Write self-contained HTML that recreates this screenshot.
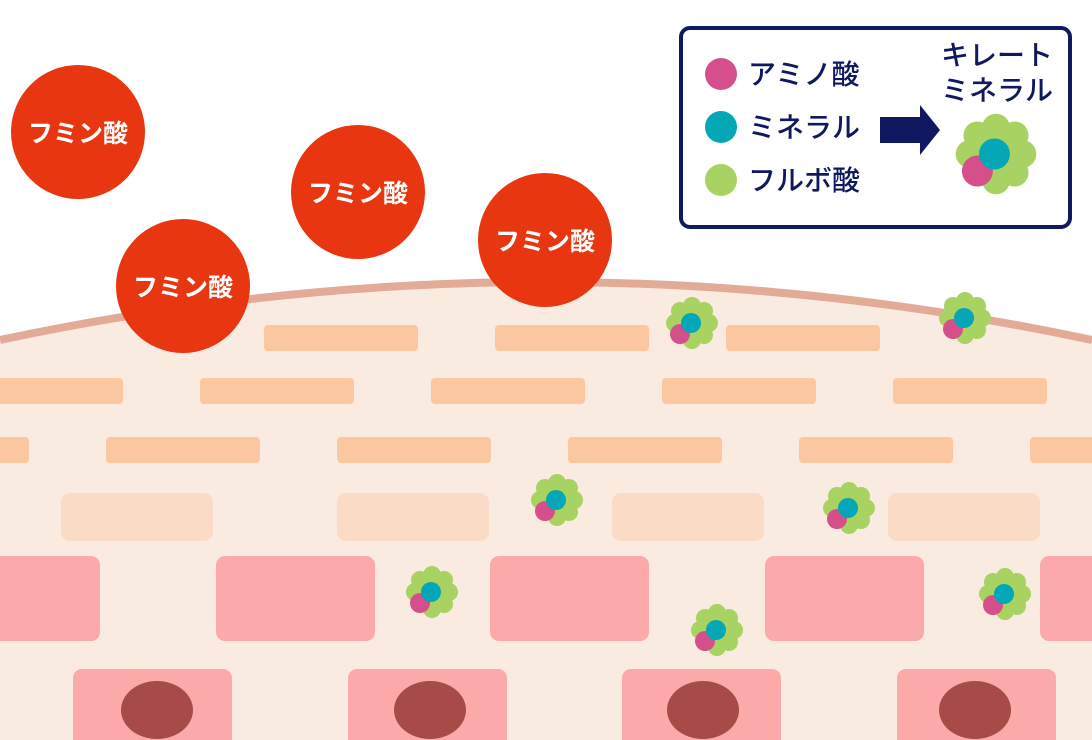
<!DOCTYPE html>
<html><head><meta charset="utf-8"><style>
html,body{margin:0;padding:0;background:#fff;}
svg{display:block;}
text{font-family:"Liberation Sans","Noto Sans CJK JP",sans-serif;}
</style></head><body>
<svg width="1092" height="740" viewBox="0 0 1092 740" xmlns="http://www.w3.org/2000/svg">
<defs>
<g id="fl">
  <circle cx="0" cy="0" r="20" fill="#a8d262"/>
  <circle cx="0" cy="-17" r="9" fill="#a8d262"/>
  <circle cx="12" cy="-12" r="9" fill="#a8d262"/>
  <circle cx="17" cy="0" r="9" fill="#a8d262"/>
  <circle cx="12" cy="12" r="9" fill="#a8d262"/>
  <circle cx="0" cy="17" r="9" fill="#a8d262"/>
  <circle cx="-12" cy="12" r="9" fill="#a8d262"/>
  <circle cx="-17" cy="0" r="9" fill="#a8d262"/>
  <circle cx="-12" cy="-12" r="9" fill="#a8d262"/>
  <circle cx="-12" cy="11" r="10" fill="#d5508a"/>
  <circle cx="-1" cy="0" r="10" fill="#04a7b5"/>
</g>
</defs>
<path d="M0,340 Q546,224 1092,340 L1092,740 L0,740 Z" fill="#faebe1"/>
<path d="M0,340 Q546,224 1092,340" fill="none" stroke="#e2ab98" stroke-width="8"/>
<g fill="#fbc7a0">
  <rect x="264" y="325" width="154" height="26" rx="4"/>
  <rect x="495" y="325" width="154" height="26" rx="4"/>
  <rect x="726" y="325" width="154" height="26" rx="4"/>
  <rect x="-10" y="378" width="133" height="26" rx="4"/>
  <rect x="200" y="378" width="154" height="26" rx="4"/>
  <rect x="431" y="378" width="154" height="26" rx="4"/>
  <rect x="662" y="378" width="154" height="26" rx="4"/>
  <rect x="893" y="378" width="154" height="26" rx="4"/>
  <rect x="-10" y="437" width="39" height="26" rx="4"/>
  <rect x="106" y="437" width="154" height="26" rx="4"/>
  <rect x="337" y="437" width="154" height="26" rx="4"/>
  <rect x="568" y="437" width="154" height="26" rx="4"/>
  <rect x="799" y="437" width="154" height="26" rx="4"/>
  <rect x="1030" y="437" width="80" height="26" rx="4"/>
</g>
<g fill="#fadbc6">
  <rect x="61" y="493" width="152" height="48" rx="9"/>
  <rect x="337" y="493" width="152" height="48" rx="9"/>
  <rect x="612" y="493" width="152" height="48" rx="9"/>
  <rect x="888" y="493" width="152" height="48" rx="9"/>
</g>
<g fill="#fbaaa9">
  <rect x="-10" y="556" width="110" height="85" rx="9"/>
  <rect x="216" y="556" width="159" height="85" rx="9"/>
  <rect x="490" y="556" width="159" height="85" rx="9"/>
  <rect x="765" y="556" width="159" height="85" rx="9"/>
  <rect x="1040" y="556" width="70" height="85" rx="9"/>
  <rect x="73" y="669" width="159" height="90" rx="9"/>
  <rect x="348" y="669" width="159" height="90" rx="9"/>
  <rect x="622" y="669" width="159" height="90" rx="9"/>
  <rect x="897" y="669" width="159" height="90" rx="9"/>
</g>
<g fill="#a64b47">
  <ellipse cx="157" cy="710" rx="36" ry="29"/>
  <ellipse cx="430" cy="710" rx="36" ry="29"/>
  <ellipse cx="703" cy="710" rx="36" ry="29"/>
  <ellipse cx="975" cy="710" rx="36" ry="29"/>
</g>
<use href="#fl" x="692" y="323"/>
<use href="#fl" x="965" y="318"/>
<use href="#fl" x="557" y="500"/>
<use href="#fl" x="849" y="508"/>
<use href="#fl" x="432" y="592"/>
<use href="#fl" x="717" y="630"/>
<use href="#fl" x="1005" y="594"/>
<g fill="#e83610">
  <circle cx="78" cy="132" r="67"/>
  <circle cx="183" cy="286" r="67"/>
  <circle cx="358" cy="192" r="67"/>
  <circle cx="545" cy="240" r="67"/>
</g>
<g fill="#fff" font-size="25" font-weight="bold" text-anchor="middle">
  <text x="78" y="142">フミン酸</text>
  <text x="183" y="296">フミン酸</text>
  <text x="358" y="202">フミン酸</text>
  <text x="545" y="250">フミン酸</text>
</g>
<rect x="681" y="28" width="389" height="199" rx="9" fill="#fff" stroke="#10185f" stroke-width="4"/>
<circle cx="721" cy="74" r="16" fill="#d5508a"/>
<circle cx="721" cy="127" r="16" fill="#04a7b5"/>
<circle cx="721" cy="180" r="16" fill="#a8d262"/>
<g fill="#10185f" font-size="28" font-weight="500">
  <text x="748" y="84">アミノ酸</text>
  <text x="748" y="137">ミネラル</text>
  <text x="748" y="190">フルボ酸</text>
  <text x="997" y="65" text-anchor="middle">キレート</text>
  <text x="997" y="100" text-anchor="middle">ミネラル</text>
</g>
<path d="M880,117 H920 V105 L940,130 L920,155 V143 H880 Z" fill="#10185f"/>
<use href="#fl" transform="translate(996,154) scale(1.55)"/>
</svg>
</body></html>
